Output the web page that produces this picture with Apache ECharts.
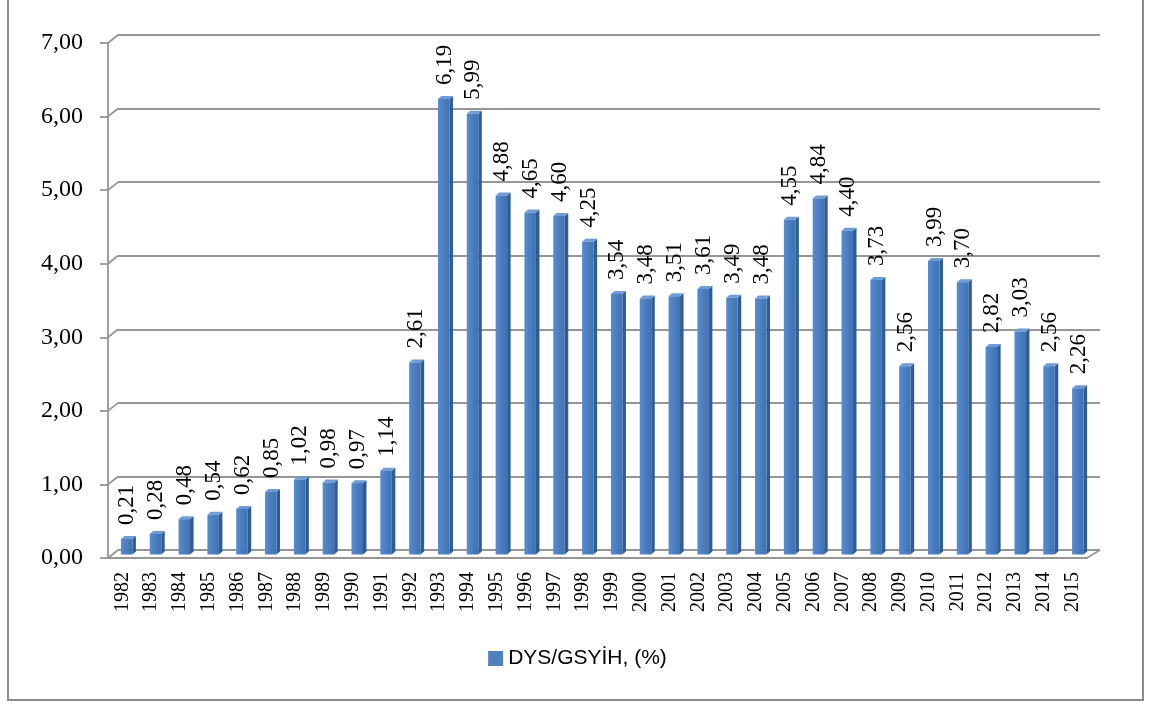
<!DOCTYPE html>
<html><head><meta charset="utf-8">
<script src="https://cdn.jsdelivr.net/npm/echarts@6/dist/echarts.min.js"></script>
<style>html,body{margin:0;padding:0;background:#fff}#c{width:1155px;height:704px}</style>
</head><body><div id="c"></div>
<script>
const years = ['1982','1983','1984','1985','1986','1987','1988','1989','1990','1991','1992','1993','1994','1995','1996','1997','1998','1999','2000','2001','2002','2003','2004','2005','2006','2007','2008','2009','2010','2011','2012','2013','2014','2015'];
const values = [0.21,0.28,0.48,0.54,0.62,0.85,1.02,0.98,0.97,1.14,2.61,6.19,5.99,4.88,4.65,4.60,4.25,3.54,3.48,3.51,3.61,3.49,3.48,4.55,4.84,4.40,3.73,2.56,3.99,3.70,2.82,3.03,2.56,2.26];
const seriesName = 'DYS/GSYİH, (%)';
const yMin = 0, yMax = 7, yStep = 1;

const SERIF = "'Liberation Serif', 'Times New Roman', serif";
const SANS = 'Liberation Sans';
const FRONT = {left:108, top:43, width:979, height:515};
const BACK = {left:118, top:35, width:982, height:515};
const MID = {left:113, top:39.5, width:980, height:515};
const GRAY = '#969696';
const fmt = v => v.toFixed(2).replace('.', ',');

const chart = echarts.init(document.getElementById('c'), null, {renderer:'canvas'});

const graphics = [];
graphics.push({type:'rect', shape:{x:8, y:-10, width:1135, height:710}, style:{fill:null, stroke:'#8c8c8c', lineWidth:2}, z:0});
const unit = FRONT.height / (yMax - yMin);
for (let k = 0; k <= (yMax - yMin) / yStep; k++) {
  const yf = FRONT.top + FRONT.height - k * yStep * unit;
  const yb = BACK.top + BACK.height - k * yStep * unit;
  graphics.push({type:'line', shape:{x1:FRONT.left, y1:yf, x2:BACK.left, y2:yb}, style:{stroke:GRAY, lineWidth:1.8}, z:1});
}
graphics.push({type:'line', shape:{x1:FRONT.left+FRONT.width, y1:FRONT.top+FRONT.height, x2:BACK.left+BACK.width, y2:BACK.top+BACK.height}, style:{stroke:GRAY, lineWidth:1.8}, z:1});

function renderBar(params, api) {
  const c = api.coord([api.value(0), api.value(1)]);
  const b = api.coord([api.value(0), 0]);
  const cx = c[0], top = c[1], base = b[1];
  const fl = cx - 6.5, fr = cx + 5, dx = 3.5, dy = 3;
  return {type:'group', children:[
    {type:'polygon', shape:{points:[[fr,top],[fr+dx,top-dy],[fr+dx,base-dy],[fr,base]]}, style:{fill:'#2d5d94'}},
    {type:'polygon', shape:{points:[[fl,top],[fl+dx,top-dy],[fr+dx,top-dy],[fr,top]]}, style:{fill:'#6f9bd6'}},
    {type:'rect', shape:{x:fl, y:top, width:fr-fl, height:base-top}, style:{fill:new echarts.graphic.LinearGradient(0,0,1,0,[{offset:0,color:'#5a8ccc'},{offset:0.5,color:'#4a7ec0'},{offset:1,color:'#3f72b2'}])}},
    {type:'text', x:cx, y:top-14, rotation:Math.PI/2, style:{text:fmt(api.value(1)), align:'left', verticalAlign:'middle', fontFamily:SERIF, fontSize:23, fill:'#000'}}
  ]};
}

chart.setOption({
  animation:false,
  backgroundColor:'#fff',
  textStyle:{fontFamily:SERIF},
  graphic: graphics,
  legend:{data:[{name:seriesName, icon:'rect'}], bottom:30, left:'center', itemWidth:15, itemHeight:15, itemGap:6, textStyle:{fontFamily:SANS, fontSize:21, color:'#000'}},
  grid:[
    {left:FRONT.left, top:FRONT.top, width:FRONT.width, height:FRONT.height},
    {left:BACK.left, top:BACK.top, width:BACK.width, height:BACK.height},
    {left:MID.left, top:MID.top, width:MID.width, height:MID.height}
  ],
  xAxis:[
    {gridIndex:0, type:'category', data:years, boundaryGap:true,
     axisLine:{lineStyle:{color:GRAY, width:1.8}}, axisTick:{length:8, lineStyle:{color:GRAY, width:1.8}},
     axisLabel:{rotate:90, margin:14, interval:0, fontFamily:SERIF, fontSize:20, color:'#000'}},
    {gridIndex:1, type:'category', data:years, show:false},
    {gridIndex:2, type:'category', data:years, show:false}
  ],
  yAxis:[
    {gridIndex:0, type:'value', min:yMin, max:yMax, interval:yStep,
     axisLine:{show:true, lineStyle:{color:GRAY, width:1.8}}, axisTick:{show:true, length:8, lineStyle:{color:GRAY, width:1.8}},
     splitLine:{show:false}, axisLabel:{formatter:fmt, margin:25, fontFamily:SERIF, fontSize:24, color:'#000'}},
    {gridIndex:1, type:'value', min:yMin, max:yMax, interval:yStep, axisLine:{show:false}, axisTick:{show:false}, axisLabel:{show:false},
     splitLine:{show:true, lineStyle:{color:GRAY, width:1.8}}},
    {gridIndex:2, type:'value', min:yMin, max:yMax, interval:yStep, show:false}
  ],
  series:[{
    name:seriesName, type:'custom', xAxisIndex:2, yAxisIndex:2, z:5,
    itemStyle:{color:'#4F81BD'},
    data: years.map((y,i)=>[i, values[i]]),
    encode:{x:0, y:1},
    renderItem: renderBar
  }]
});
</script></body></html>
